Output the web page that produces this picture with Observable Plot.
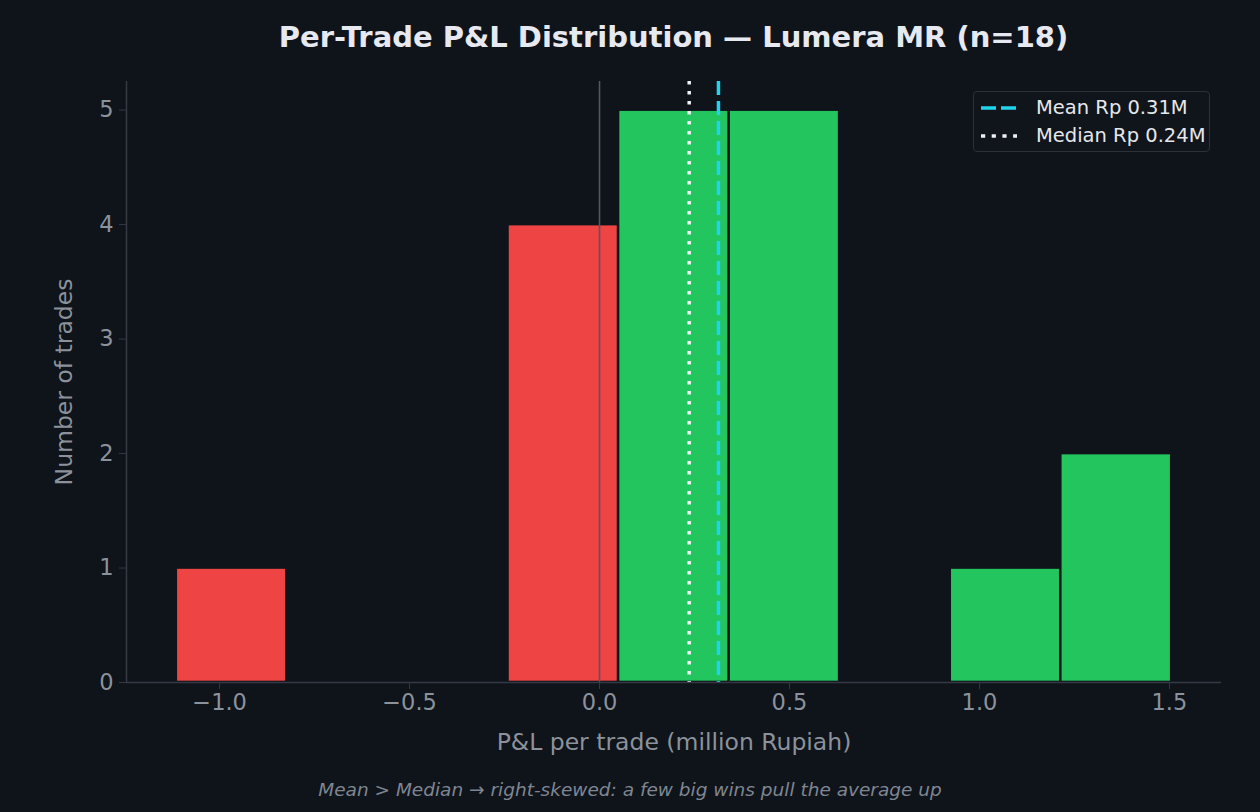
<!DOCTYPE html>
<html>
<head>
<meta charset="utf-8">
<script src="https://cdn.jsdelivr.net/npm/d3@7"></script>
<script src="https://cdn.jsdelivr.net/npm/@observablehq/plot@0.6"></script>
<style>
  body { margin: 0; background: #0f131a; font-family: "DejaVu Sans", sans-serif; }
  #page { position: relative; width: 1260px; height: 812px; overflow: hidden; background: #0f131a; }
  #title { position: absolute; left: 126px; width: 1095px; top: 16px; text-align: center;
           font-size: 29px; font-weight: bold; color: #e6e9f0; line-height: 42px; }
  #chart { position: absolute; left: 0; top: 60px; }
  #legend { position: absolute; left: 973px; top: 91px; width: 235px; height: 59px;
            border: 1.5px solid #2b3039; border-radius: 4px; background: #10141b; }
  #legend .row { position: absolute; left: 0; height: 26px; width: 100%; }
  #legend svg { position: absolute; left: 7px; top: 11px; }
  #legend span { position: absolute; left: 62px; top: 0; font-size: 19.5px; line-height: 26px; color: #e5e7eb; white-space: nowrap; }
  #caption { position: absolute; left: 0; width: 1260px; top: 778px; text-align: center;
             font-style: italic; font-size: 18.5px; color: #7f8692; line-height: 24px; }
</style>
</head>
<body>
<div id="page">
  <div id="title"></div>
  <div id="chart"></div>
  <div id="legend"></div>
  <div id="caption"></div>
</div>
<script>
// Histogram of per-trade profit and loss (million Rupiah), 9 equal-width bins
const binEdges = [-1.114, -0.823, -0.532, -0.241, 0.050, 0.341, 0.632, 0.923, 1.214, 1.506];
const tradeCounts = [1, 0, 0, 4, 5, 5, 0, 1, 2];

// Summary statistics
const meanPnl = 0.313;
const medianPnl = 0.236;

// Axis ticks
const xTicks = [-1.0, -0.5, 0.0, 0.5, 1.0, 1.5];
const yTicks = [0, 1, 2, 3, 4, 5];

// Texts
const titleText = "Per-Trade P&L Distribution — Lumera MR (n=18)";
const xLabel = "P&L per trade (million Rupiah)";
const yLabel = "Number of trades";
const captionText = "Mean > Median → right-skewed: a few big wins pull the average up";

// Palette
const lossColor = "#ef4444";
const winColor = "#22c55e";
const meanColor = "#22d3ee";
const medianColor = "#eef0f4";
const spineColor = "#343944";
const mutedText = "#8b929c";

// x range padded by 5% on each side of the binned range
const span = binEdges[binEdges.length - 1] - binEdges[0];
const xDomain = [binEdges[0] - 0.05 * span, binEdges[binEdges.length - 1] + 0.05 * span];

const bins = tradeCounts
  .map((count, i) => ({
    x1: binEdges[i],
    x2: binEdges[i + 1],
    count,
    fill: (binEdges[i] + binEdges[i + 1]) / 2 < 0 ? lossColor : winColor
  }))
  .filter(d => d.count > 0);

const chart = Plot.plot({
  width: 1260,
  height: 710,
  marginTop: 21,
  marginBottom: 88,
  marginLeft: 126,
  marginRight: 39,
  style: { background: "transparent", fontFamily: "DejaVu Sans", color: mutedText },
  x: { domain: xDomain, label: null },
  y: { domain: [0, 5.25], label: null },
  color: { type: "identity" },
  marks: [
    Plot.rectY(bins, { x1: "x1", x2: "x2", y: "count", fill: "fill", inset: 1.3 }),
    Plot.ruleX([0], { stroke: "#525762", strokeWidth: 1.6 }),
    Plot.ruleX([medianPnl], { stroke: medianColor, strokeWidth: 3.5, strokeDasharray: "3.5 6.5" }),
    Plot.ruleX([meanPnl], { stroke: meanColor, strokeWidth: 3.5, strokeDasharray: "14 6" }),
    Plot.ruleY([0], { stroke: spineColor, strokeWidth: 1.5 }),
    Plot.ruleX([xDomain[0]], { stroke: spineColor, strokeWidth: 1.5 }),
    Plot.axisX({ ticks: xTicks, tickSize: 7, tickPadding: 5, fontSize: 22.5,
                 tickFormat: d3.format(".1f"), stroke: spineColor, label: null }),
    Plot.axisY({ ticks: yTicks, tickSize: 7, tickPadding: 6, fontSize: 22.5,
                 tickFormat: d3.format("d"), stroke: spineColor, label: null }),
    Plot.text([xLabel], { text: d => d, frameAnchor: "bottom", dy: 67, fontSize: 23.5, fill: mutedText }),
    Plot.text([yLabel], { text: d => d, frameAnchor: "left", textAnchor: "middle", dx: -62,
                          rotate: -90, fontSize: 23.5, fill: mutedText })
  ]
});
document.getElementById("chart").appendChild(chart);

document.getElementById("title").textContent = titleText;
document.getElementById("caption").textContent = captionText;

// Legend for the two reference lines
const legendItems = [
  { label: `Mean Rp ${meanPnl.toFixed(2)}M`, color: meanColor, dash: "15 5", top: 3 },
  { label: `Median Rp ${medianPnl.toFixed(2)}M`, color: medianColor, dash: "4.2 6.5", top: 31 }
];
const legend = document.getElementById("legend");
for (const item of legendItems) {
  const row = document.createElement("div");
  row.className = "row";
  row.style.top = item.top + "px";
  row.innerHTML =
    `<svg width="36" height="4"><line x1="0" x2="36" y1="2" y2="2" stroke="${item.color}" ` +
    `stroke-width="3.5" stroke-dasharray="${item.dash}"/></svg><span></span>`;
  row.querySelector("span").textContent = item.label;
  legend.appendChild(row);
}
</script>
</body>
</html>
